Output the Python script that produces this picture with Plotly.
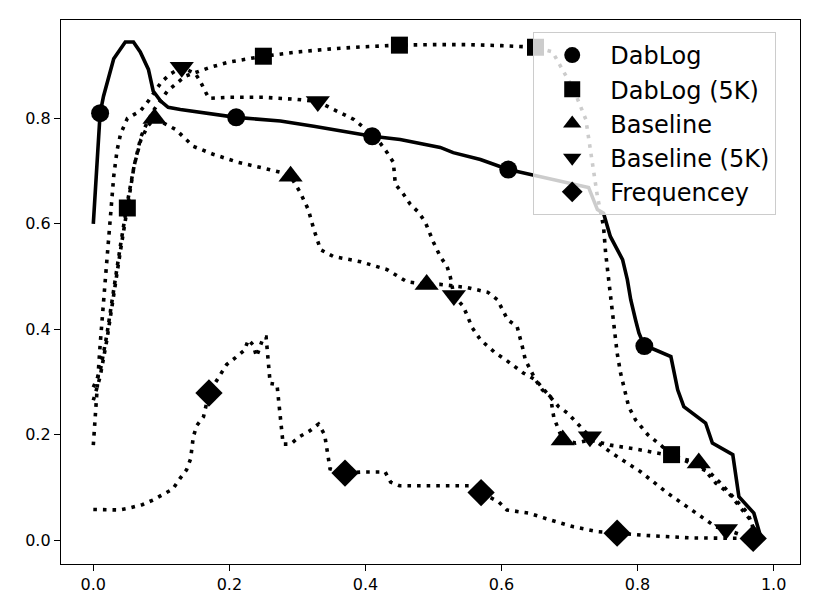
import plotly.graph_objects as go

# ---------------- data ----------------
dablog_x = [0.0, 0.01, 0.015, 0.03, 0.047, 0.059, 0.069, 0.081, 0.088, 0.099, 0.11, 0.128,
            0.21, 0.275, 0.324, 0.373, 0.41, 0.451, 0.471, 0.481, 0.51, 0.529, 0.569, 0.61,
            0.647, 0.687, 0.728, 0.741, 0.75, 0.76, 0.778, 0.785, 0.79, 0.797, 0.802, 0.81,
            0.824, 0.849, 0.859, 0.868, 0.9, 0.91, 0.94, 0.949, 0.971, 0.981]
dablog_y = [0.60, 0.81, 0.842, 0.913, 0.945, 0.945, 0.926, 0.893, 0.852, 0.833, 0.821, 0.817,
            0.802, 0.795, 0.785, 0.774, 0.766, 0.76, 0.755, 0.751, 0.745, 0.735, 0.722, 0.703,
            0.692, 0.681, 0.669, 0.627, 0.62, 0.576, 0.532, 0.494, 0.456, 0.418, 0.393, 0.368,
            0.362, 0.348, 0.285, 0.253, 0.222, 0.184, 0.162, 0.082, 0.051, 0.006]
dablog_marks = [1, 12, 16, 23, 35]

dablog5k_x = [0.0, 0.01, 0.02, 0.03, 0.04, 0.05, 0.06, 0.07, 0.08, 0.09, 0.109, 0.135, 0.152,
              0.172, 0.2, 0.25, 0.3, 0.35, 0.4, 0.45, 0.5, 0.55, 0.6, 0.65, 0.675, 0.706, 0.724,
              0.733, 0.741, 0.75, 0.753, 0.758, 0.765, 0.77, 0.775, 0.78, 0.787, 0.797, 0.809,
              0.815, 0.834, 0.85, 0.868, 0.907, 0.922, 0.941, 0.962, 0.975]
dablog5k_y = [0.265, 0.31, 0.38, 0.47, 0.55, 0.63, 0.71, 0.765, 0.795, 0.818, 0.852, 0.88, 0.888,
              0.897, 0.907, 0.918, 0.926, 0.932, 0.936, 0.939, 0.94, 0.94, 0.938, 0.935, 0.926,
              0.855, 0.798, 0.722, 0.652, 0.595, 0.546, 0.489, 0.405, 0.355, 0.317, 0.291, 0.253,
              0.228, 0.209, 0.2, 0.18, 0.162, 0.152, 0.127, 0.108, 0.082, 0.051, 0.005]
dablog5k_marks = [5, 15, 19, 23, 41]

baseline_x = [0.0, 0.01, 0.02, 0.03, 0.04, 0.05, 0.06, 0.07, 0.08, 0.09, 0.121, 0.147, 0.176,
              0.212, 0.246, 0.275, 0.29, 0.304, 0.316, 0.324, 0.334, 0.353, 0.393, 0.432, 0.461,
              0.49, 0.51, 0.55, 0.58, 0.594, 0.609, 0.623, 0.631, 0.635, 0.65, 0.66, 0.672,
              0.677, 0.69, 0.709, 0.73, 0.76, 0.8, 0.85, 0.89, 0.915, 0.934, 0.951, 0.966, 0.975]
baseline_y = [0.29, 0.32, 0.39, 0.48, 0.56, 0.64, 0.71, 0.76, 0.785, 0.80, 0.779, 0.747, 0.732,
              0.717, 0.707, 0.698, 0.69, 0.66, 0.627, 0.59, 0.551, 0.538, 0.528, 0.513, 0.49,
              0.485, 0.485, 0.479, 0.47, 0.456, 0.418, 0.405, 0.365, 0.342, 0.304, 0.285, 0.272,
              0.232, 0.19, 0.184, 0.19, 0.18, 0.172, 0.16, 0.146, 0.108, 0.089, 0.063, 0.038, 0.005]
baseline_marks = [9, 16, 25, 38, 44]

baseline5k_x = [0.0, 0.003, 0.01, 0.018, 0.022, 0.026, 0.03, 0.035, 0.04, 0.05, 0.069, 0.081,
                0.1, 0.113, 0.13, 0.15, 0.157, 0.165, 0.17, 0.2, 0.25, 0.3, 0.33, 0.353, 0.383,
                0.397, 0.415, 0.432, 0.441, 0.444, 0.456, 0.466, 0.478, 0.488, 0.5, 0.51, 0.52,
                0.525, 0.53, 0.544, 0.557, 0.569, 0.591, 0.606, 0.632, 0.65, 0.669, 0.684, 0.697,
                0.709, 0.73, 0.76, 0.804, 0.844, 0.885, 0.915, 0.93, 0.965]
baseline5k_y = [0.18, 0.243, 0.37, 0.5, 0.57, 0.63, 0.69, 0.74, 0.77, 0.80, 0.814, 0.833,
                0.869, 0.884, 0.897, 0.885, 0.871, 0.85, 0.838, 0.84, 0.84, 0.836, 0.832, 0.817,
                0.798, 0.783, 0.765, 0.735, 0.717, 0.675, 0.656, 0.637, 0.622, 0.603, 0.565,
                0.538, 0.519, 0.498, 0.464, 0.443, 0.403, 0.38, 0.355, 0.342, 0.317, 0.304, 0.276,
                0.253, 0.241, 0.224, 0.196, 0.167, 0.13, 0.089, 0.051, 0.025, 0.02, 0.004]
baseline5k_marks = [14, 22, 38, 50, 56]

freq_x = [0.0, 0.02, 0.038, 0.054, 0.072, 0.088, 0.1, 0.117, 0.127, 0.137, 0.143, 0.147, 0.152,
          0.162, 0.17, 0.187, 0.196, 0.209, 0.222, 0.228, 0.235, 0.24, 0.245, 0.25, 0.254,
          0.257, 0.258, 0.26, 0.27, 0.272, 0.276, 0.279, 0.29, 0.303, 0.318, 0.331, 0.34, 0.343,
          0.348, 0.37, 0.395, 0.429, 0.437, 0.45, 0.52, 0.554, 0.57, 0.596, 0.608, 0.64, 0.672,
          0.706, 0.741, 0.77, 0.809, 0.878, 0.93, 0.97]
freq_y = [0.058, 0.058, 0.057, 0.061, 0.067, 0.076, 0.085, 0.097, 0.116, 0.133, 0.154, 0.196,
          0.217, 0.234, 0.279, 0.314, 0.333, 0.346, 0.36, 0.38, 0.37, 0.348, 0.365, 0.385, 0.385,
          0.342, 0.318, 0.297, 0.295, 0.272, 0.224, 0.182, 0.182, 0.196, 0.207, 0.22, 0.2,
          0.179, 0.135, 0.127, 0.129, 0.129, 0.11, 0.103, 0.103, 0.103, 0.09, 0.072, 0.057,
          0.051, 0.038, 0.025, 0.016, 0.013, 0.009, 0.004, 0.003, 0.003]
freq_marks = [14, 39, 46, 53, 57]

x_ticks = [0.0, 0.2, 0.4, 0.6, 0.8, 1.0]
y_ticks = [0.0, 0.2, 0.4, 0.6, 0.8]

series = [
    ("DabLog", dablog_x, dablog_y, dablog_marks, "circle", 18, "solid"),
    ("DabLog (5K)", dablog5k_x, dablog5k_y, dablog5k_marks, "square", 17, "dot"),
    ("Baseline", baseline_x, baseline_y, baseline_marks, "triangle-up", 21, "dot"),
    ("Baseline (5K)", baseline5k_x, baseline5k_y, baseline5k_marks, "triangle-down", 21, "dot"),
    ("Frequencey", freq_x, freq_y, freq_marks, "diamond", 21, "dot"),
]

fig = go.Figure()
for name, xs, ys, marks, sym, size, dash in series:
    fig.add_trace(go.Scatter(
        x=xs, y=ys, mode="lines", showlegend=False, hoverinfo="skip",
        line=dict(color="black", width=3.6,
                  dash="solid" if dash == "solid" else "3.6px,6px"),
    ))
for name, xs, ys, marks, sym, size, dash in series:
    fig.add_trace(go.Scatter(
        x=[xs[i] for i in marks], y=[ys[i] for i in marks], mode="markers", name=name,
        marker=dict(symbol=sym, size=size, color="black", line=dict(width=0)),
    ))

axis_common = dict(
    showgrid=False, zeroline=False, showline=True, linecolor="black", linewidth=1.3,
    mirror=True, ticks="outside", ticklen=6, tickwidth=1.3, tickcolor="black",
    tickfont=dict(family="DejaVu Sans", size=16, color="black"), tickformat=".1f",
)
fig.update_xaxes(range=[-0.0475, 1.0388], tickvals=x_ticks, **axis_common)
fig.update_yaxes(range=[-0.0455, 0.9867], tickvals=y_ticks, **axis_common)

fig.update_layout(
    width=811, height=606,
    margin=dict(l=53, r=19, t=12, b=50),
    paper_bgcolor="white", plot_bgcolor="white",
    font=dict(family="DejaVu Sans", color="black"),
    legend=dict(
        x=0.639, y=0.978, xanchor="left", yanchor="top",
        bgcolor="rgba(255,255,255,0.8)", bordercolor="#cccccc", borderwidth=1,
        font=dict(family="DejaVu Sans", size=24, color="black"),
        itemwidth=66, tracegroupgap=0,
    ),
)
fig.write_html("out.html")
